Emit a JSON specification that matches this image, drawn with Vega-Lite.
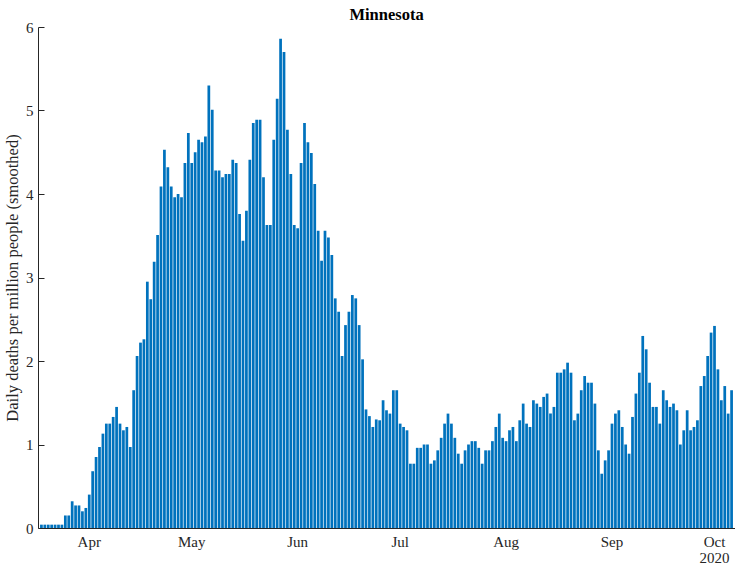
{
  "$schema": "https://vega.github.io/schema/vega-lite/v6.json",
  "autosize": {"type": "none"},
  "padding": {"left": 38, "top": 27, "right": 0, "bottom": 38},
  "width": 697,
  "height": 501,
  "background": "white",
  "config": {
    "view": {"stroke": null},
    "font": "Liberation Serif",
    "axis": {"labelFont": "Liberation Serif", "titleFont": "Liberation Serif", "labelColor": "#262626", "titleColor": "#262626", "domainColor": "#262626", "tickColor": "#262626"}
  },
  "title": {"text": "Minnesota", "font": "Liberation Serif", "fontSize": 16.5, "fontWeight": "bold", "color": "#000000", "anchor": "middle", "offset": -3},
  "data": {"values": [
    {"date":"2020-03-18","v":0.04},{"date":"2020-03-19","v":0.04},{"date":"2020-03-20","v":0.04},{"date":"2020-03-21","v":0.04},{"date":"2020-03-22","v":0.04},{"date":"2020-03-23","v":0.04},{"date":"2020-03-24","v":0.04},
    {"date":"2020-03-25","v":0.15},{"date":"2020-03-26","v":0.15},{"date":"2020-03-27","v":0.32},{"date":"2020-03-28","v":0.27},{"date":"2020-03-29","v":0.27},{"date":"2020-03-30","v":0.2},{"date":"2020-03-31","v":0.24},
    {"date":"2020-04-01","v":0.4},{"date":"2020-04-02","v":0.68},{"date":"2020-04-03","v":0.85},{"date":"2020-04-04","v":0.97},{"date":"2020-04-05","v":1.13},{"date":"2020-04-06","v":1.25},{"date":"2020-04-07","v":1.25},{"date":"2020-04-08","v":1.33},{"date":"2020-04-09","v":1.45},{"date":"2020-04-10","v":1.25},
    {"date":"2020-04-11","v":1.17},{"date":"2020-04-12","v":1.21},{"date":"2020-04-13","v":0.97},{"date":"2020-04-14","v":1.65},{"date":"2020-04-15","v":2.06},{"date":"2020-04-16","v":2.22},{"date":"2020-04-17","v":2.26},{"date":"2020-04-18","v":2.95},{"date":"2020-04-19","v":2.74},{"date":"2020-04-20","v":3.19},
    {"date":"2020-04-21","v":3.51},{"date":"2020-04-22","v":4.09},{"date":"2020-04-23","v":4.53},{"date":"2020-04-24","v":4.32},{"date":"2020-04-25","v":4.09},{"date":"2020-04-26","v":3.96},{"date":"2020-04-27","v":4.0},{"date":"2020-04-28","v":3.96},{"date":"2020-04-29","v":4.37},{"date":"2020-04-30","v":4.73},
    {"date":"2020-05-01","v":4.37},{"date":"2020-05-02","v":4.5},{"date":"2020-05-03","v":4.65},{"date":"2020-05-04","v":4.62},{"date":"2020-05-05","v":4.69},{"date":"2020-05-06","v":5.3},{"date":"2020-05-07","v":5.01},{"date":"2020-05-08","v":4.28},{"date":"2020-05-09","v":4.28},{"date":"2020-05-10","v":4.2},
    {"date":"2020-05-11","v":4.24},{"date":"2020-05-12","v":4.24},{"date":"2020-05-13","v":4.41},{"date":"2020-05-14","v":4.37},{"date":"2020-05-15","v":3.76},{"date":"2020-05-16","v":3.44},{"date":"2020-05-17","v":3.8},{"date":"2020-05-18","v":4.41},{"date":"2020-05-19","v":4.85},{"date":"2020-05-20","v":4.89},
    {"date":"2020-05-21","v":4.89},{"date":"2020-05-22","v":4.2},{"date":"2020-05-23","v":3.63},{"date":"2020-05-24","v":3.63},{"date":"2020-05-25","v":4.65},{"date":"2020-05-26","v":5.14},{"date":"2020-05-27","v":5.86},{"date":"2020-05-28","v":5.7},{"date":"2020-05-29","v":4.77},{"date":"2020-05-30","v":4.24},{"date":"2020-05-31","v":3.63},
    {"date":"2020-06-01","v":3.59},{"date":"2020-06-02","v":4.37},{"date":"2020-06-03","v":4.85},{"date":"2020-06-04","v":4.62},{"date":"2020-06-05","v":4.49},{"date":"2020-06-06","v":4.12},{"date":"2020-06-07","v":3.56},{"date":"2020-06-08","v":3.2},{"date":"2020-06-09","v":3.56},{"date":"2020-06-10","v":3.48},
    {"date":"2020-06-11","v":3.27},{"date":"2020-06-12","v":2.75},{"date":"2020-06-13","v":2.59},{"date":"2020-06-14","v":2.06},{"date":"2020-06-15","v":2.43},{"date":"2020-06-16","v":2.59},{"date":"2020-06-17","v":2.79},{"date":"2020-06-18","v":2.75},{"date":"2020-06-19","v":2.43},{"date":"2020-06-20","v":2.02},
    {"date":"2020-06-21","v":1.42},{"date":"2020-06-22","v":1.34},{"date":"2020-06-23","v":1.21},{"date":"2020-06-24","v":1.3},{"date":"2020-06-25","v":1.29},{"date":"2020-06-26","v":1.53},{"date":"2020-06-27","v":1.41},{"date":"2020-06-28","v":1.37},{"date":"2020-06-29","v":1.65},{"date":"2020-06-30","v":1.65},
    {"date":"2020-07-01","v":1.25},{"date":"2020-07-02","v":1.21},{"date":"2020-07-03","v":1.17},{"date":"2020-07-04","v":0.77},{"date":"2020-07-05","v":0.77},{"date":"2020-07-06","v":0.96},{"date":"2020-07-07","v":0.96},{"date":"2020-07-08","v":1.0},{"date":"2020-07-09","v":1.0},{"date":"2020-07-10","v":0.77},
    {"date":"2020-07-11","v":0.81},{"date":"2020-07-12","v":0.93},{"date":"2020-07-13","v":1.08},{"date":"2020-07-14","v":1.25},{"date":"2020-07-15","v":1.37},{"date":"2020-07-16","v":1.25},{"date":"2020-07-17","v":1.08},{"date":"2020-07-18","v":0.89},{"date":"2020-07-19","v":0.77},{"date":"2020-07-20","v":0.93},
    {"date":"2020-07-21","v":1.0},{"date":"2020-07-22","v":1.04},{"date":"2020-07-23","v":1.04},{"date":"2020-07-24","v":0.96},{"date":"2020-07-25","v":0.77},{"date":"2020-07-26","v":0.93},{"date":"2020-07-27","v":0.93},{"date":"2020-07-28","v":1.04},{"date":"2020-07-29","v":1.21},{"date":"2020-07-30","v":1.37},{"date":"2020-07-31","v":1.08},
    {"date":"2020-08-01","v":1.04},{"date":"2020-08-02","v":1.17},{"date":"2020-08-03","v":1.21},{"date":"2020-08-04","v":1.04},{"date":"2020-08-05","v":1.29},{"date":"2020-08-06","v":1.49},{"date":"2020-08-07","v":1.25},{"date":"2020-08-08","v":1.21},{"date":"2020-08-09","v":1.53},{"date":"2020-08-10","v":1.49},
    {"date":"2020-08-11","v":1.45},{"date":"2020-08-12","v":1.57},{"date":"2020-08-13","v":1.61},{"date":"2020-08-14","v":1.37},{"date":"2020-08-15","v":1.45},{"date":"2020-08-16","v":1.86},{"date":"2020-08-17","v":1.86},{"date":"2020-08-18","v":1.9},{"date":"2020-08-19","v":1.98},{"date":"2020-08-20","v":1.86},
    {"date":"2020-08-21","v":1.29},{"date":"2020-08-22","v":1.37},{"date":"2020-08-23","v":1.65},{"date":"2020-08-24","v":1.82},{"date":"2020-08-25","v":1.74},{"date":"2020-08-26","v":1.74},{"date":"2020-08-27","v":1.49},{"date":"2020-08-28","v":0.93},{"date":"2020-08-29","v":0.65},{"date":"2020-08-30","v":0.81},{"date":"2020-08-31","v":0.93},
    {"date":"2020-09-01","v":1.25},{"date":"2020-09-02","v":1.37},{"date":"2020-09-03","v":1.41},{"date":"2020-09-04","v":1.21},{"date":"2020-09-05","v":1.0},{"date":"2020-09-06","v":0.89},{"date":"2020-09-07","v":1.33},{"date":"2020-09-08","v":1.61},{"date":"2020-09-09","v":1.86},{"date":"2020-09-10","v":2.3},
    {"date":"2020-09-11","v":2.14},{"date":"2020-09-12","v":1.74},{"date":"2020-09-13","v":1.45},{"date":"2020-09-14","v":1.45},{"date":"2020-09-15","v":1.25},{"date":"2020-09-16","v":1.65},{"date":"2020-09-17","v":1.53},{"date":"2020-09-18","v":1.45},{"date":"2020-09-19","v":1.49},{"date":"2020-09-20","v":1.41},
    {"date":"2020-09-21","v":1.0},{"date":"2020-09-22","v":1.17},{"date":"2020-09-23","v":1.41},{"date":"2020-09-24","v":1.17},{"date":"2020-09-25","v":1.21},{"date":"2020-09-26","v":1.29},{"date":"2020-09-27","v":1.7},{"date":"2020-09-28","v":1.82},{"date":"2020-09-29","v":2.06},{"date":"2020-09-30","v":2.34},
    {"date":"2020-10-01","v":2.42},{"date":"2020-10-02","v":1.9},{"date":"2020-10-03","v":1.53},{"date":"2020-10-04","v":1.7},{"date":"2020-10-05","v":1.37},{"date":"2020-10-06","v":1.65}
  ]},
  "mark": {"type": "bar", "color": "#0072BD"},
  "encoding": {
    "x": {
      "field": "date", "type": "ordinal", "sort": "ascending",
      "scale": {"paddingInner": 0.2, "paddingOuter": 0.6},
      "axis": {
        "title": null,
        "values": ["2020-04-01","2020-05-01","2020-06-01","2020-07-01","2020-08-01","2020-09-01","2020-10-01"],
        "labelExpr": "slice(datum.value,5,7) == '10' ? ['Oct','2020'] : ['Jan','Feb','Mar','Apr','May','Jun','Jul','Aug','Sep','Oct','Nov','Dec'][toNumber(slice(datum.value,5,7))-1]",
        "labelAngle": 0,
        "labelFontSize": 15,
        "labelLineHeight": 16,
        "labelPadding": 6,
        "ticks": false,
        "domainWidth": 1
      }
    },
    "y": {
      "field": "v", "type": "quantitative",
      "scale": {"domain": [0, 6], "nice": false},
      "axis": {
        "title": "Daily deaths per million people (smoothed)",
        "titleFontSize": 16.5,
        "titleFontWeight": "normal",
        "titlePadding": 5,
        "values": [0, 1, 2, 3, 4, 5, 6],
        "format": "d",
        "grid": false,
        "tickSize": -6,
        "labelFontSize": 15,
        "labelPadding": 11
      }
    }
  }
}
